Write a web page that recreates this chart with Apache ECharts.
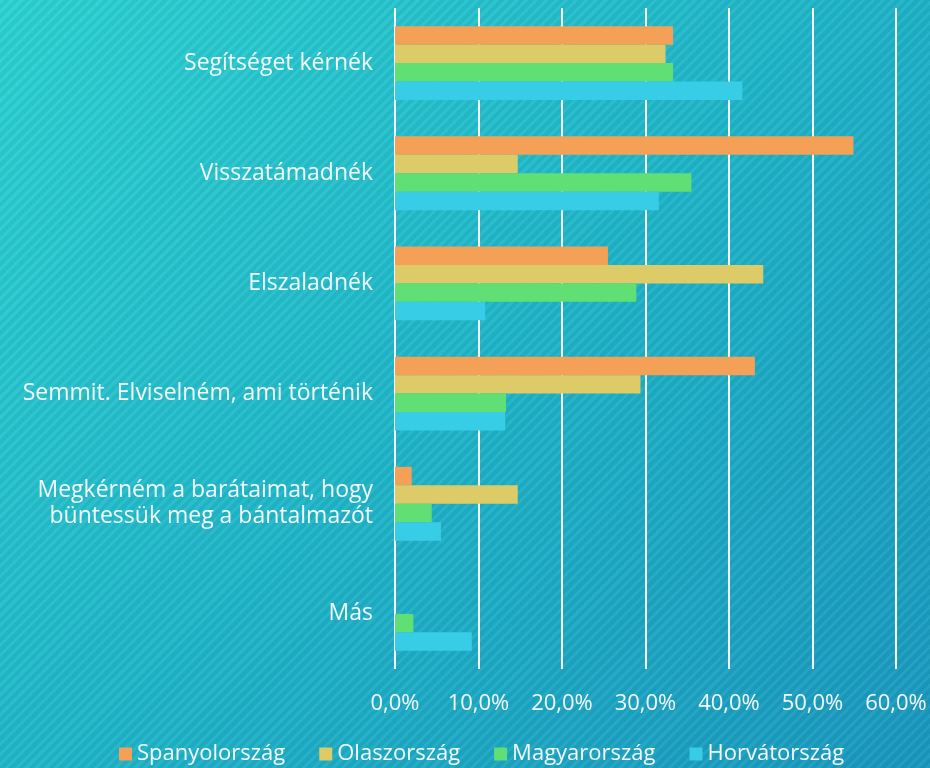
<!DOCTYPE html>
<html lang="hu">
    <head>
        <meta charset="UTF-8" />
        <title>Reakciók</title>
        <script src="https://cdnjs.cloudflare.com/ajax/libs/echarts/6.0.0/echarts.min.js"></script>
        <style>
            html, body { margin: 0; padding: 0; }
            #chart {
                width: 930px;
                height: 768px;
                background:
                    repeating-linear-gradient(135deg, rgba(255,255,255,0.04) 0px, rgba(255,255,255,0.04) 3px, rgba(0,0,0,0.04) 3px, rgba(0,0,0,0.04) 7px),
                    linear-gradient(135deg, #2dd2d2 0%, #1fb5c9 50%, #1a98bf 100%);
            }
        </style>
    </head>
    <body>
        <div id="chart"></div>
        <script>
            //categories, top to bottom
            const categories = [
                "Segítséget kérnék",
                "Visszatámadnék",
                "Elszaladnék",
                "Semmit. Elviselném, ami történik",
                "Megkérném a barátaimat, hogy\nbüntessük meg a bántalmazót",
                "Más"
            ];
            const countries = ["Spanyolország", "Olaszország", "Magyarország", "Horvátország"];
            const colors = ["#f4a057", "#dccb66", "#5fdf74", "#38cde6"];

            //percent values per country
            const spain = [33.3, 54.9, 25.5, 43.1, 2.0, 0];
            const italy = [32.4, 14.7, 44.1, 29.4, 14.7, 0];
            const hungary = [33.3, 35.5, 28.9, 13.3, 4.4, 2.2];
            const croatia = [41.6, 31.6, 10.8, 13.2, 5.5, 9.2];
            const values = [spain, italy, hungary, croatia];

            const font = "'Open Sans', sans-serif";
            const textColor = "#f4f9fa";
            const chart = echarts.init(document.getElementById("chart"));

            chart.setOption({
                backgroundColor: "transparent",
                textStyle: { fontFamily: font },
                grid: { left: 395, right: 34, top: 8, bottom: 99, containLabel: false },
                legend: {
                    top: 738,
                    left: 114,
                    itemWidth: 13,
                    itemHeight: 13,
                    itemGap: 34,
                    icon: "rect",
                    textStyle: { color: textColor, fontSize: 22, fontFamily: font },
                    data: countries
                },
                xAxis: {
                    type: "value",
                    min: 0,
                    max: 60,
                    interval: 10,
                    axisLine: { show: false },
                    axisTick: { show: false },
                    axisLabel: {
                        color: textColor,
                        fontSize: 22,
                        margin: 24,
                        formatter: v => v.toFixed(1).replace(".", ",") + "%"
                    },
                    splitLine: { lineStyle: { color: textColor, width: 2 } }
                },
                yAxis: {
                    type: "category",
                    inverse: true,
                    data: categories,
                    axisLine: { show: false },
                    axisTick: { show: false },
                    axisLabel: { color: textColor, fontSize: 23, margin: 22, lineHeight: 26, padding: [4, 0, 0, 0] }
                },
                series: countries.map((name, i) => ({
                    name: name,
                    type: "bar",
                    data: values[i],
                    itemStyle: { color: colors[i] },
                    barGap: "0%",
                    barCategoryGap: "33%"
                }))
            });
        </script>
    </body>
</html>
